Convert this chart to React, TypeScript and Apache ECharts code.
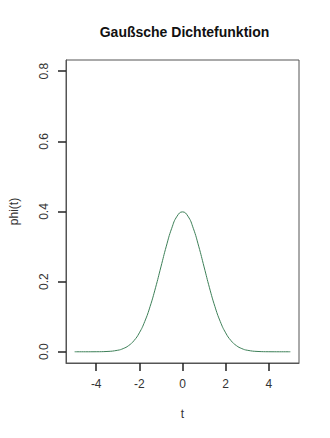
import React, { useEffect, useRef } from "react";
import * as echarts from "echarts";

const tValues = [-5, -4.5, -4, -3.5, -3, -2.75, -2.5, -2.25, -2, -1.75, -1.5, -1.25, -1, -0.75, -0.5, -0.25, 0,
  0.25, 0.5, 0.75, 1, 1.25, 1.5, 1.75, 2, 2.25, 2.5, 2.75, 3, 3.5, 4, 4.5, 5];
const phiValues = [0.0000015, 0.000016, 0.00013, 0.00087, 0.0044, 0.0091, 0.0175, 0.0317, 0.054, 0.0863, 0.1295, 0.1826, 0.242, 0.3011, 0.3521, 0.3867, 0.3989,
  0.3867, 0.3521, 0.3011, 0.242, 0.1826, 0.1295, 0.0863, 0.054, 0.0317, 0.0175, 0.0091, 0.0044, 0.00087, 0.00013, 0.000016, 0.0000015];
const xTicks = [-4, -2, 0, 2, 4];
const yTicks = [0, 0.2, 0.4, 0.6, 0.8];
const X_MIN = -5.4, X_MAX = 5.4, Y_MIN = -0.032, Y_MAX = 0.832;

export default function App() {
  const ref = useRef<HTMLDivElement>(null);
  useEffect(() => {
    const chart = echarts.init(ref.current!, null, { renderer: "svg" });
    const font = "Liberation Sans, Arial, sans-serif";
    chart.setOption({
      animation: false,
      backgroundColor: "#ffffff",
      title: {
        text: "Gaußsche Dichtefunktion",
        left: 179.5,
        textAlign: "center",
        top: 20,
        textStyle: { fontFamily: font, fontSize: 14, fontWeight: "bold", color: "#111" },
      },
      grid: { left: 60, right: 31, top: 60, bottom: 75, show: true, borderColor: "#555", borderWidth: 1, backgroundColor: "transparent" },
      xAxis: {
        type: "value",
        position: "bottom",
        min: X_MIN,
        max: X_MAX,
        name: "t",
        nameLocation: "middle",
        nameGap: 45,
        nameTextStyle: { fontFamily: font, fontSize: 12, color: "#333" },
        axisLine: { show: true, onZero: false, lineStyle: { color: "#555", width: 1 } },
        splitLine: { show: false },
        axisTick: { show: true, inside: false, length: 8, lineStyle: { color: "#222", width: 1.5 }, customValues: xTicks },
        axisLabel: { show: true, margin: 15, fontFamily: font, fontSize: 12, color: "#333", customValues: xTicks },
      },
      yAxis: {
        type: "value",
        position: "left",
        min: Y_MIN,
        max: Y_MAX,
        name: "phi(t)",
        nameLocation: "middle",
        nameGap: 46,
        nameTextStyle: { fontFamily: font, fontSize: 12, color: "#333" },
        axisLine: { show: true, onZero: false, lineStyle: { color: "#555", width: 1 } },
        splitLine: { show: false },
        axisTick: { show: true, inside: false, length: 8, lineStyle: { color: "#222", width: 1.5 }, customValues: yTicks },
        axisLabel: { show: true, rotate: 90, margin: 16, fontFamily: font, fontSize: 12, color: "#333", customValues: yTicks, formatter: (v: number) => v.toFixed(1) },
      },
      series: [
        {
          type: "line",
          data: tValues.map((t, i) => [t, phiValues[i]]),
          smooth: true,
          showSymbol: false,
          lineStyle: { color: "#3d8058", width: 1 },
        },
      ],
    });
    return () => chart.dispose();
  }, []);
  return <div ref={ref} style={{ width: 330, height: 438, position: "absolute", left: 0, top: 0 }} />;
}
